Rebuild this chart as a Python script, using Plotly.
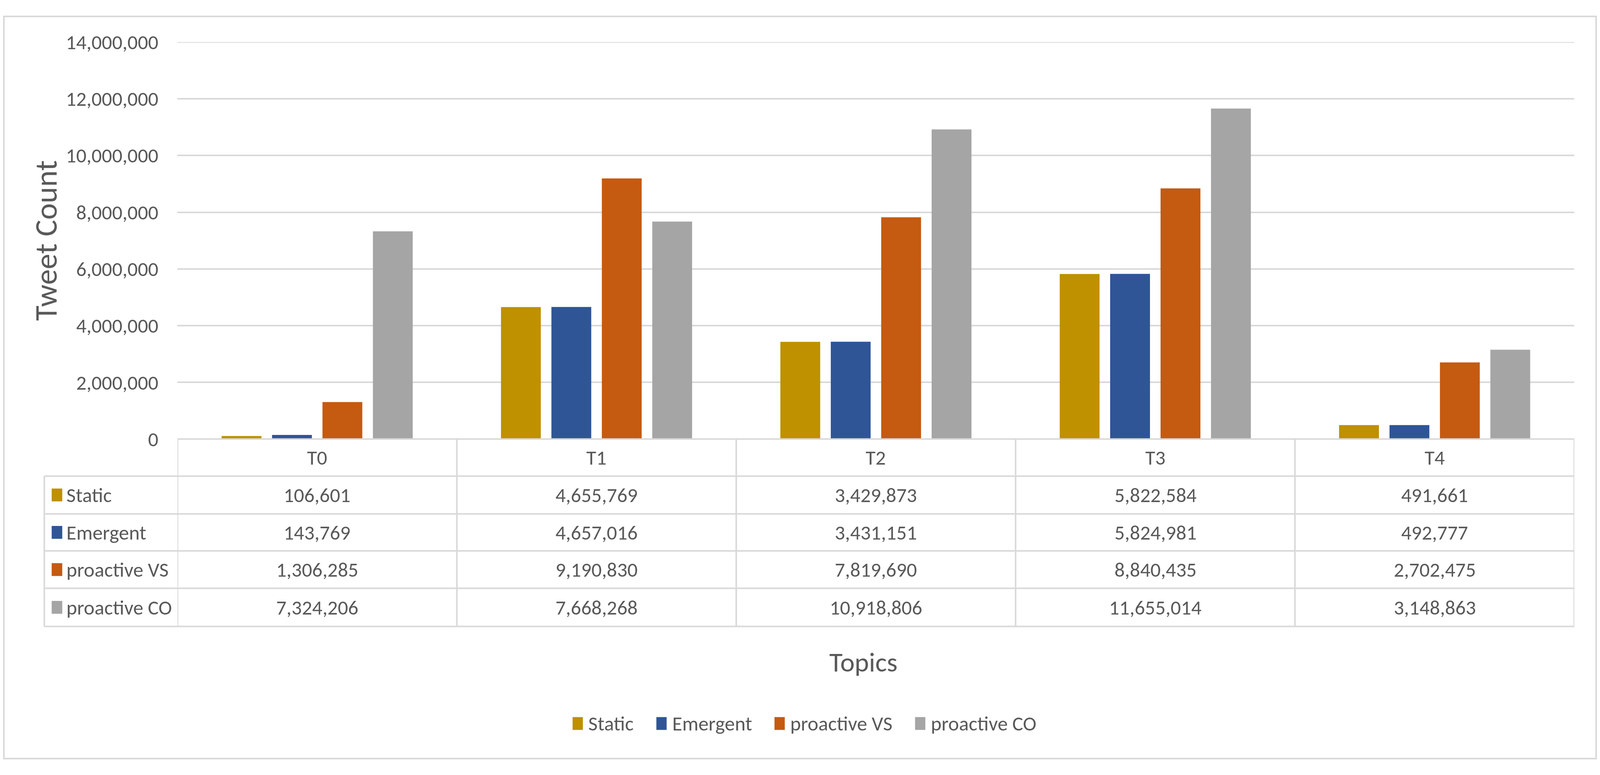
import plotly.graph_objects as go

topics = ["T0", "T1", "T2", "T3", "T4"]
series_names = ["Static", "Emergent", "proactive VS", "proactive CO"]
static = [106601, 4655769, 3429873, 5822584, 491661]
emergent = [143769, 4657016, 3431151, 5824981, 492777]
proactive_vs = [1306285, 9190830, 7819690, 8840435, 2702475]
proactive_co = [7324206, 7668268, 10918806, 11655014, 3148863]
colors = ["#BF9000", "#2F5597", "#C55A11", "#A5A5A5"]

series_values = [static, emergent, proactive_vs, proactive_co]

# positions are measured on the 4985x1985 reference and mapped to the
# browser viewport (4096 wide, page margin 8px) as paper fractions
REF_W = 4985
VIEW_W = 4096
FIG_W, FIG_H = 4080, 1969
L, R, T, B = 553, 4905, 78, 1129
FONT = "Calibri, Carlito, Liberation Sans, sans-serif"
TXT = "#595959"
GRID = "#D9D9D9"


def fx(px):
    return (px * VIEW_W / REF_W - 8) / FIG_W


def fy(py):
    return 1 - (py - 8) / FIG_H


fig = go.Figure()
for name, vals, col in zip(series_names, series_values, colors):
    fig.add_trace(go.Bar(x=topics, y=vals, name=name, marker_color=col,
                         marker_line_width=0, showlegend=False))

shapes = []
annotations = []

# top gridline (plotly drops the one sitting on the range end)
shapes.append(dict(type="line", xref="paper", yref="y", x0=fx(L), x1=fx(R),
                   y0=14000000, y1=14000000, line=dict(color=GRID, width=4)))

# data table under the chart
row_edges = [1129, 1227, 1327, 1425, 1524, 1625]
table_left = 138
line = dict(color=GRID, width=4)

shapes.append(dict(type="line", xref="paper", yref="paper", x0=fx(L), x1=fx(R),
                   y0=fy(row_edges[0]), y1=fy(row_edges[0]), line=line))
for py in row_edges[1:]:
    shapes.append(dict(type="line", xref="paper", yref="paper",
                       x0=fx(table_left), x1=fx(R), y0=fy(py), y1=fy(py), line=line))
shapes.append(dict(type="line", xref="paper", yref="paper",
                   x0=fx(table_left), x1=fx(table_left),
                   y0=fy(row_edges[1]), y1=fy(row_edges[-1]), line=line))
for k in range(len(topics) + 1):
    shapes.append(dict(type="line", xref="x", yref="paper", x0=k - 0.5, x1=k - 0.5,
                       y0=fy(row_edges[0]), y1=fy(row_edges[-1]), line=line))

cell_font = dict(family=FONT, size=52, color=TXT)
header_y = (row_edges[0] + row_edges[1]) / 2
for t in topics:
    annotations.append(dict(x=t, xref="x", y=fy(header_y), yref="paper", text=t,
                            showarrow=False, font=cell_font, yanchor="middle"))

for i, (name, vals, col) in enumerate(zip(series_names, series_values, colors)):
    cy = (row_edges[i + 1] + row_edges[i + 2]) / 2
    shapes.append(dict(type="rect", xref="paper", yref="paper",
                       x0=fx(161), x1=fx(194), y0=fy(cy - 17), y1=fy(cy + 17),
                       fillcolor=col, line_width=0))
    annotations.append(dict(x=fx(205), xref="paper", y=fy(cy), yref="paper",
                            text=name, showarrow=False, font=cell_font,
                            xanchor="left", yanchor="middle"))
    for t, v in zip(topics, vals):
        annotations.append(dict(x=t, xref="x", y=fy(cy), yref="paper",
                                text=f"{v:,}", showarrow=False, font=cell_font,
                                yanchor="middle"))

# axis titles
annotations.append(dict(x=fx(143), xref="paper", y=fy((T + B) / 2), yref="paper",
                        text="Tweet Count", textangle=-90, showarrow=False,
                        font=dict(family=FONT, size=80, color=TXT),
                        xanchor="center", yanchor="middle"))
annotations.append(dict(x=fx(2690), xref="paper", y=fy(1720), yref="paper",
                        text="Topics", showarrow=False,
                        font=dict(family=FONT, size=70, color=TXT),
                        xanchor="center", yanchor="middle"))

# legend drawn by hand so the swatches match the table ones
legend_x = [1784, 2045, 2413, 2851]
legend_y = 1882
for name, col, lx in zip(series_names, colors, legend_x):
    shapes.append(dict(type="rect", xref="paper", yref="paper",
                       x0=fx(lx), x1=fx(lx + 32), y0=fy(legend_y - 17), y1=fy(legend_y + 17),
                       fillcolor=col, line_width=0))
    annotations.append(dict(x=fx(lx + 47), xref="paper", y=fy(legend_y), yref="paper",
                            text=name, showarrow=False, font=cell_font,
                            xanchor="left", yanchor="middle"))

# chart border
shapes.append(dict(type="rect", xref="paper", yref="paper",
                   x0=2 / FIG_W, x1=1 - 2 / FIG_W, y0=2 / FIG_H, y1=1 - 2 / FIG_H,
                   line=dict(color=GRID, width=4), fillcolor="rgba(0,0,0,0)"))

fig.update_layout(
    margin=dict(l=0, r=0, t=0, b=0, pad=0),
    plot_bgcolor="white", paper_bgcolor="white",
    barmode="group", bargap=0.278, bargroupgap=0.21,
    shapes=shapes, annotations=annotations,
    font=dict(family=FONT, color=TXT),
)
fig.update_xaxes(domain=[fx(L), fx(R)], showticklabels=False, showgrid=False,
                 zeroline=False, showline=False, ticks="", range=[-0.5, 4.5])
fig.update_yaxes(domain=[fy(B), fy(T)], range=[0, 14000000], dtick=2000000,
                 tickformat=",", showgrid=True, gridcolor=GRID, gridwidth=4,
                 zeroline=False, showline=False, ticks="", ticklabelstandoff=48,
                 tickfont=dict(family=FONT, size=52, color=TXT))

fig.write_html("out.html")
